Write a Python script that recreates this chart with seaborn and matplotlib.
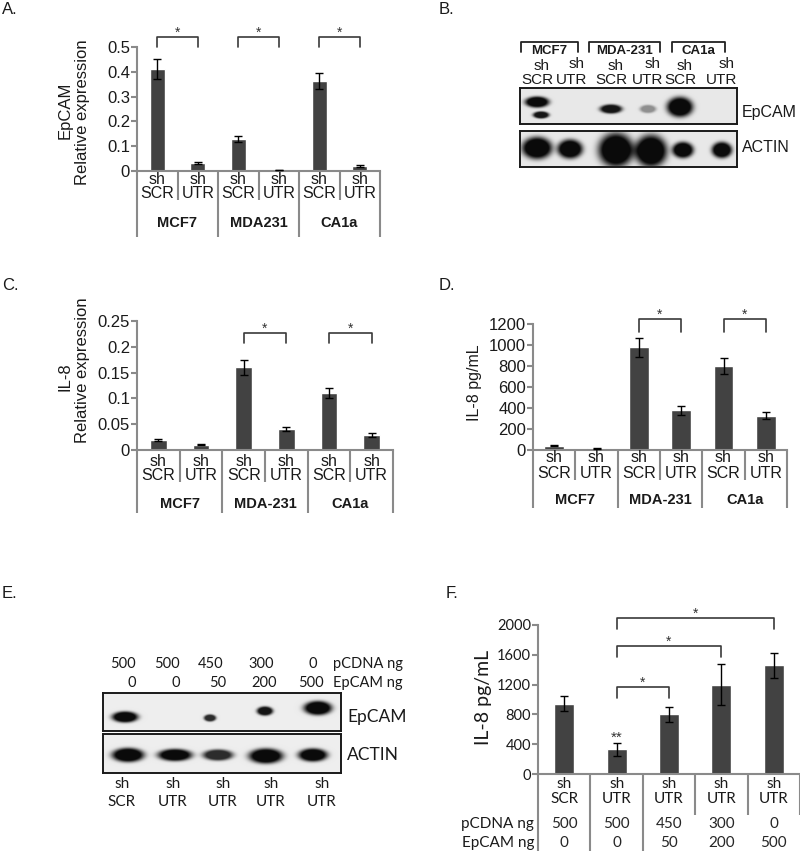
import numpy as np
import pandas as pd
import seaborn as sns
import matplotlib.pyplot as plt
from matplotlib.transforms import Affine2D, blended_transform_factory

# ---- data ----
conditions = ['SCR', 'UTR']
a_groups = ['MCF7', 'MDA231', 'CA1a']
a_vals = [0.41, 0.033, 0.128, 0.005, 0.363, 0.021]
a_errs = [0.04, 0.004, 0.013, 0.001, 0.033, 0.003]
a_ticks = [0, 0.1, 0.2, 0.3, 0.4, 0.5]
a_ticklabels = ['0', '0.1', '0.2', '0.3', '0.4', '0.5']

cd_groups = ['MCF7', 'MDA-231', 'CA1a']
c_vals = [0.020, 0.010, 0.160, 0.040, 0.111, 0.029]
c_errs = [0.002, 0.001, 0.015, 0.004, 0.010, 0.003]
c_ticks = [0, 0.05, 0.1, 0.15, 0.2, 0.25]
c_ticklabels = ['0', '0.05', '0.1', '0.15', '0.2', '0.25']

d_vals = [40, 16, 980, 378, 800, 327]
d_errs = [5, 4, 90, 40, 78, 33]
d_ticks = [0, 200, 400, 600, 800, 1000, 1200]

f_shrna = ['SCR', 'UTR', 'UTR', 'UTR', 'UTR']
f_pcdna = [500, 500, 450, 300, 0]
f_epcam = [0, 0, 50, 200, 500]
f_vals = [945, 330, 800, 1200, 1460]
f_errs = [105, 85, 100, 270, 165]
f_ticks = [0, 400, 800, 1200, 1600, 2000]

# western blot band signal (0 = no band, 1 = saturated)
b_lanes = ['MCF7', 'MCF7', 'MDA-231', 'MDA-231', 'CA1a', 'CA1a']
b_epcam = [1.0, 0.0, 0.95, 0.4, 1.0, 0.0]
b_epcam_lower = [0.95]
b_actin = [1.0, 1.0, 1.0, 1.0, 1.0, 1.0]
e_epcam = [1.0, 0.0, 0.85, 0.95, 1.0]
e_actin = [1.0, 1.0, 0.85, 1.0, 1.0]

# band geometry in blot pixels: (x, y, half width, half height)
b_epcam_geom = [(17, 14, 12, 5.5), (51, 15, 10, 5), (91, 21, 11, 4.5),
                (128, 21, 8, 4), (160, 19, 13, 10), (202, 18, 10, 5)]
b_epcam_lower_geom = [(21, 27, 8, 3.5)]
b_actin_geom = [(17, 17, 15, 11), (50, 18, 12.5, 9.5), (96, 19, 17.5, 17),
                (131, 20, 16, 16), (163, 19, 10.5, 8), (202, 19, 10, 8)]
e_epcam_geom = [(22, 24, 13, 5.5), (72, 24, 12, 5), (107, 25, 6, 3.5),
                (162, 18, 8, 4.5), (215, 15, 14, 7)]
e_actin_geom = [(25, 21, 16, 7), (72, 21, 17, 6), (115, 21, 15, 5.5),
                (163, 22, 17, 7.5), (210, 21, 14.5, 6.5)]

BAR = '#424242'
AXIS = '#8a8a8a'
LINE = '#3a3a3a'
W, H = 800, 851

sns.set_theme(style='white')
plt.rcParams['font.family'] = ['Liberation Sans', 'DejaVu Sans']

fig = plt.figure(figsize=(8, 8.51), dpi=100)
pix = Affine2D().scale(1, -1).translate(0, H)   # top-down pixel coords


def px_axes(left, top, right, bottom):
    return fig.add_axes([left / W, 1 - bottom / H, (right - left) / W, (bottom - top) / H])


def bar_panel(rect, names, vals, errs, ticks, ticklabels, tick_fs, bar_w):
    ax = px_axes(*rect)
    df = pd.DataFrame({'sample': names, 'value': vals})
    sns.barplot(data=df, x='sample', y='value', color=BAR, width=bar_w,
                saturation=1, errorbar=None, ax=ax)
    ax.errorbar(np.arange(len(vals)), vals, yerr=errs, fmt='none', ecolor='black',
                elinewidth=1, capsize=3, capthick=1, zorder=3)
    ax.set_xlim(-0.5, len(vals) - 0.5)
    ax.set_ylim(ticks[0], ticks[-1])
    ax.set_yticks(ticks, ticklabels)
    ax.set_xticks([])
    ax.set_xlabel('')
    ax.set_ylabel('')
    ax.patch.set_alpha(0)
    for side in ['top', 'right']:
        ax.spines[side].set_visible(False)
    for side in ['left', 'bottom']:
        ax.spines[side].set_color(AXIS)
        ax.spines[side].set_linewidth(1.5)
    ax.tick_params(axis='y', left=True, length=4, width=1.5, color=AXIS,
                   labelsize=tick_fs, pad=1, labelcolor='#1a1a1a')
    return ax


def separators(ax, axis_y, ends):
    tr = blended_transform_factory(ax.transData, pix)
    for k, end in enumerate(ends):
        ax.plot([k - 0.5, k - 0.5], [axis_y, end], transform=tr, color=AXIS,
                lw=1.5, clip_on=False, solid_capstyle='butt')


def lane_labels(ax, conds, y_sh, y_cond, fs, family=None):
    tr = blended_transform_factory(ax.transData, pix)
    kw = dict(transform=tr, ha='center', va='center', fontsize=fs, color='#1a1a1a')
    if family:
        kw['family'] = family
    for i, c in enumerate(conds):
        ax.text(i, y_sh, 'sh', **kw)
        ax.text(i, y_cond, c, **kw)


def group_labels(ax, groups, y, fs=10.5):
    tr = blended_transform_factory(ax.transData, pix)
    for g, name in enumerate(groups):
        ax.text(2 * g + 0.5, y, name, transform=tr, ha='center', va='center',
                fontsize=fs, fontweight='bold', color='#1a1a1a')


def bracket(ax, x1, x2, y, tip, star='*', fs=10):
    ax.plot([x1, x1, x2, x2], [y - tip, y, y, y - tip], color=LINE, lw=1.2, clip_on=False)
    ax.text((x1 + x2) / 2, y, star, ha='center', va='baseline', fontsize=fs, color='#333333')


def draw_blot(rect, signals, geoms, bg):
    left, top, right, bottom = rect
    w, h = right - left, bottom - top
    ax = px_axes(*rect)
    xs = np.linspace(0, w, int(w * 4))
    ys = np.linspace(0, h, int(h * 4))
    X, Y = np.meshgrid(xs, ys)
    dark = np.zeros_like(X)
    for s, (cx, cy, hw, hh) in zip(signals, geoms):
        r = np.sqrt(((X - cx) / hw) ** 2 + ((Y - cy) / hh) ** 2)
        dark += s * np.clip(1.4 * np.exp(-r ** 4), 0, 1)
    dark = np.clip(dark, 0, 1)
    img = bg * (1 - dark) + 0.04 * dark
    ax.imshow(img, cmap='gray', vmin=0, vmax=1, extent=(0, w, h, 0),
              aspect='auto', interpolation='bilinear')
    ax.set_xlim(0, w)
    ax.set_ylim(h, 0)
    ax.set_xticks([])
    ax.set_yticks([])
    for sp in ax.spines.values():
        sp.set_visible(True)
        sp.set_color('#1a1a1a')
        sp.set_linewidth(1.4)
    return ax


def ftext(x, y, s, **kw):
    kw.setdefault('color', '#1a1a1a')
    fig.text(x, y, s, transform=pix, **kw)


def fline(xs, ys, **kw):
    fig.add_artist(plt.Line2D(xs, ys, transform=pix, **kw))


# ---- panel letters ----
for letter, x, y in [('A.', 2, 10), ('B.', 439, 10), ('C.', 2, 285),
                     ('D.', 439, 285), ('E.', 2, 593), ('F.', 446, 593)]:
    ftext(x, y, letter, fontsize=12, va='center')

# ---- A ----
names6 = [f'{g} sh{c}' for g in a_groups for c in conditions]
axA = bar_panel((137, 47, 380, 171), names6, a_vals, a_errs, a_ticks, a_ticklabels, 12, 0.37)
separators(axA, 171, [237, 200, 237, 200, 237, 200, 237])
lane_labels(axA, conditions * 3, 179, 194, 11.5)
group_labels(axA, a_groups, 223)
for g in range(3):
    bracket(axA, 2 * g, 2 * g + 1, 0.54, 0.04)
ftext(65, 110, 'EpCAM', rotation=90, ha='center', va='center', fontsize=12)
ftext(83, 112, 'Relative expression', rotation=90, ha='center', va='center', fontsize=12)

# ---- C ----
names6 = [f'{g} sh{c}' for g in cd_groups for c in conditions]
axC = bar_panel((137, 321, 393, 450), names6, c_vals, c_errs, c_ticks, c_ticklabels, 12, 0.39)
separators(axC, 450, [513, 482, 513, 482, 513, 482, 513])
lane_labels(axC, conditions * 3, 461, 476, 11.5)
group_labels(axC, cd_groups, 504)
for g in [1, 2]:
    bracket(axC, 2 * g, 2 * g + 1, 0.227, 0.02)
ftext(65, 377, 'IL-8', rotation=90, ha='center', va='center', fontsize=12)
ftext(83, 370, 'Relative expression', rotation=90, ha='center', va='center', fontsize=12)

# ---- D ----
axD = bar_panel((533, 324, 787, 450), names6, d_vals, d_errs, d_ticks,
                [str(t) for t in d_ticks], 12, 0.46)
separators(axD, 450, [508, 480, 508, 480, 508, 480, 508])
lane_labels(axD, conditions * 3, 458, 474, 11.5)
group_labels(axD, cd_groups, 500)
for g in [1, 2]:
    bracket(axD, 2 * g, 2 * g + 1, 1247, 125)
ftext(475, 383, 'IL-8 pg/mL', rotation=90, ha='center', va='center', fontsize=11.5)

# ---- B (blot) ----
draw_blot((520, 88, 737, 124), b_epcam + b_epcam_lower, b_epcam_geom + b_epcam_lower_geom, 0.91)
draw_blot((520, 131, 737, 167), b_actin, b_actin_geom, 0.91)
ftext(742, 113, 'EpCAM', fontsize=11.5, va='center')
ftext(742, 148, 'ACTIN', fontsize=11.5, va='center')
b_brackets = {'MCF7': (521, 578), 'MDA-231': (589, 660), 'CA1a': (672, 725)}
for name, (x1, x2) in b_brackets.items():
    fline([x1, x1, x2, x2], [52, 42, 42, 52], color='#222222', lw=1.3)
    ftext((x1 + x2) / 2, 51, name, ha='center', va='center', fontsize=9.5, fontweight='bold')
b_text_x = [537, 572, 611, 648, 680, 722]
for i, x in enumerate(b_text_x):
    cond = conditions[i % 2]
    ftext(x + 5, 66 if cond == 'SCR' else 64, 'sh', ha='center', va='center', fontsize=11)
    ftext(x, 80, cond, ha='center', va='center', fontsize=11)

# ---- E (blot) ----
draw_blot((103, 693, 341, 731), e_epcam, e_epcam_geom, 0.93)
draw_blot((103, 734, 341, 773), e_actin, e_actin_geom, 0.93)
LATO = ['Lato', 'DejaVu Sans']
ftext(347, 717, 'EpCAM', fontsize=12.5, va='center', family=LATO)
ftext(347, 755, 'ACTIN', fontsize=12.5, va='center', family=LATO)
for x, v in zip([123, 167, 211, 261, 313], f_pcdna):
    ftext(x, 664, str(v), ha='center', va='center', fontsize=10.5, family=LATO)
for x, v in zip([132, 176, 218, 264, 311], f_epcam):
    ftext(x, 683, str(v), ha='center', va='center', fontsize=10.5, family=LATO)
ftext(333, 664, 'pCDNA ng', va='center', fontsize=10.5, family=LATO)
ftext(333, 683, 'EpCAM ng', va='center', fontsize=10.5, family=LATO)
for x, c in zip([122, 173, 223, 271, 322], f_shrna):
    ftext(x, 784, 'sh', ha='center', va='center', fontsize=11, family=LATO)
    ftext(x, 802, c, ha='center', va='center', fontsize=11, family=LATO)

# ---- F ----
names5 = [f'sh{c} {p}/{e}' for c, p, e in zip(f_shrna, f_pcdna, f_epcam)]
axF = bar_panel((538, 625, 800, 774), names5, f_vals, f_errs, f_ticks,
                [str(t) for t in f_ticks], 10.5, 0.38)
for lab in axF.get_yticklabels():
    lab.set_family(LATO)
separators(axF, 774, [851, 851, 851, 815, 815, 815])
lane_labels(axF, f_shrna, 784, 799, 11, LATO)
trF = blended_transform_factory(axF.transData, pix)
for i, (p, e) in enumerate(zip(f_pcdna, f_epcam)):
    axF.text(i, 824, str(p), transform=trF, ha='center', va='center', fontsize=11, family=LATO)
    axF.text(i, 843, str(e), transform=trF, ha='center', va='center', fontsize=11, family=LATO)
ftext(534, 824, 'pCDNA ng', ha='right', va='center', fontsize=11, family=LATO)
ftext(534, 843, 'EpCAM ng', ha='right', va='center', fontsize=11, family=LATO)
bracket(axF, 1, 2, 1168, 148)
bracket(axF, 1, 3, 1718, 148)
bracket(axF, 1, 4, 2094, 148)
axF.text(1, 430, '**', ha='center', va='baseline', fontsize=11, color='#333333')
ftext(483, 697, 'IL-8 pg/mL', rotation=90, ha='center', va='center', fontsize=14, family=LATO)

fig.savefig('out.png', dpi=100)
